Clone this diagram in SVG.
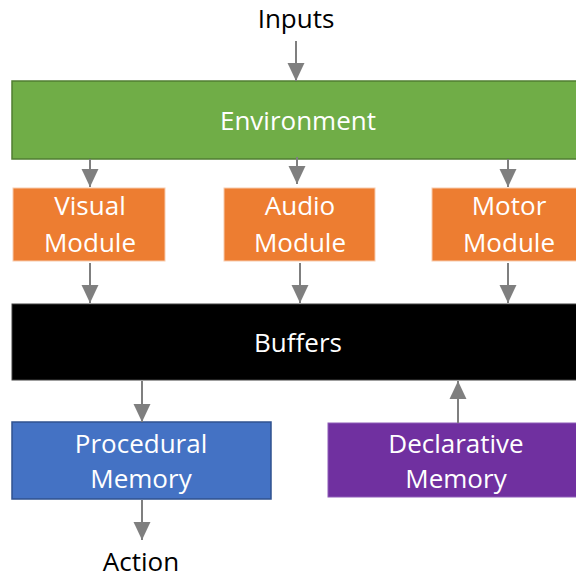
<svg xmlns="http://www.w3.org/2000/svg" width="576" height="579" viewBox="0 0 576 579">
  <style>
    text { font-family: "Open Sans", "Liberation Sans", sans-serif; font-size: 26px; text-anchor: middle; }
    .light { fill: #ffffff; }
    .dark { fill: #000000; }
    .env { fill: #70AD47; stroke: #507E32; stroke-width: 1.5; }
    .mod { fill: #ED7D31; stroke: #F8CBAD; stroke-width: 1; }
    .buf { fill: #000000; stroke: #404040; stroke-width: 1; }
    .proc { fill: #4472C4; stroke: #2F528F; stroke-width: 1.5; }
    .decl { fill: #7030A0; stroke: #8E5CB8; stroke-width: 1; }
    .conn line { stroke: #7F7F7F; stroke-width: 2; marker-end: url(#arrow); }
  </style>
  <defs>
    <marker id="arrow" markerUnits="userSpaceOnUse" markerWidth="18" markerHeight="18" viewBox="0 0 17 16" refX="17" refY="8" orient="auto">
      <path d="M0,0 L17,8 L0,16 Z" fill="#7F7F7F"/>
    </marker>
  </defs>

  <!-- free-standing labels -->
  <text class="dark" x="296" y="28">Inputs</text>
  <text class="dark" x="141" y="571" font-size="25">Action</text>

  <g id="environment">
    <rect class="env" x="12" y="81" width="570" height="78"/>
    <text class="light" x="298" y="130">Environment</text>
  </g>

  <g id="visual-module">
    <rect class="mod" x="13" y="188" width="152" height="73"/>
    <text class="light" x="90" y="215">Visual</text>
    <text class="light" x="90" y="252">Module</text>
  </g>

  <g id="audio-module">
    <rect class="mod" x="224" y="188" width="151" height="73"/>
    <text class="light" x="300" y="215">Audio</text>
    <text class="light" x="300" y="252">Module</text>
  </g>

  <g id="motor-module">
    <rect class="mod" x="432" y="188" width="150" height="73"/>
    <text class="light" x="509" y="215">Motor</text>
    <text class="light" x="509" y="252">Module</text>
  </g>

  <g id="buffers">
    <rect class="buf" x="12" y="304" width="570" height="76"/>
    <text class="light" x="298" y="352">Buffers</text>
  </g>

  <g id="procedural-memory">
    <rect class="proc" x="12" y="422" width="259" height="77"/>
    <text class="light" x="141" y="453">Procedural</text>
    <text class="light" x="141" y="488">Memory</text>
  </g>

  <g id="declarative-memory">
    <rect class="decl" x="328" y="423" width="254" height="74"/>
    <text class="light" x="456" y="453">Declarative</text>
    <text class="light" x="456" y="488">Memory</text>
  </g>

  <g id="connectors" class="conn">
    <line x1="296" y1="41" x2="296" y2="81"/>
    <line x1="90" y1="159" x2="90" y2="187"/>
    <line x1="297" y1="157" x2="297" y2="184"/>
    <line x1="508" y1="159" x2="508" y2="187"/>
    <line x1="90" y1="263" x2="90" y2="303"/>
    <line x1="300" y1="263" x2="300" y2="303"/>
    <line x1="508" y1="263" x2="508" y2="303"/>
    <line x1="142" y1="381" x2="142" y2="422"/>
    <line x1="458" y1="423" x2="458" y2="381"/>
    <line x1="142" y1="500" x2="142" y2="540"/>
  </g>
</svg>
